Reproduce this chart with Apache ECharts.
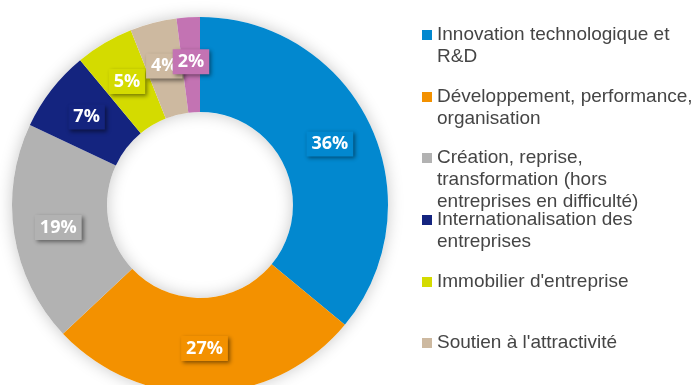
<!DOCTYPE html>
<html><head><meta charset="utf-8">
<script src="https://cdn.jsdelivr.net/npm/echarts@6/dist/echarts.min.js"></script>
<style>html,body{margin:0;padding:0;background:#fff}#c{width:694px;height:385px}</style>
</head><body><div id="c"></div>
<script>
const categories = [
  "Innovation technologique et\nR&D",
  "Développement, performance,\norganisation",
  "Création, reprise,\ntransformation (hors\nentreprises en difficulté)",
  "Internationalisation des\nentreprises",
  "Immobilier d'entreprise",
  "Soutien à l'attractivité",
  "Autres"
];
const values = [36, 27, 19, 7, 5, 4, 2];
const colors = ["#0288CF", "#F39100", "#B2B2B2", "#14247F", "#D4DB00", "#CDB9A0", "#C373B3"];
const legendShown = 6;

const legendIconY = [35, 97, 158, 220, 282, 343];
const LH = 22;
const legends = [];
for (let i = 0; i < legendShown; i++) {
  const n = categories[i].split("\n").length;
  const H = (2 * n - 1) * LH;
  legends.push({
    orient: 'vertical',
    left: 422,
    top: legendIconY[i] - H / 2,
    padding: 0,
    itemWidth: 10,
    itemHeight: 10,
    icon: 'rect',
    selectedMode: false,
    data: [categories[i]],
    formatter: function (name) {
      const lines = name.split("\n");
      return new Array(lines.length - 1).fill(" ").concat(lines).join("\n");
    },
    textStyle: { fontFamily: 'Liberation Sans, Arial, sans-serif', fontSize: 19, color: '#454545', lineHeight: LH }
  });
}

const chart = echarts.init(document.getElementById('c'), null, { renderer: 'canvas' });
chart.setOption({
  animation: false,
  color: colors,
  legend: legends,
  series: [
    {
      type: 'pie', silent: true, center: [200, 205], radius: [93, 188], z: 1,
      label: { show: false }, labelLine: { show: false },
      itemStyle: { color: '#fff', shadowBlur: 16, shadowColor: 'rgba(0,0,0,0.22)' },
      data: [{ value: 1, name: '__bg' }],
      legendHoverLink: false
    },
    {
      type: 'pie', center: [200, 205], radius: [93, 188], startAngle: 90, clockwise: true, z: 2,
      avoidLabelOverlap: false,
      label: {
        show: true, position: 'inside',
        formatter: p => p.value + '%',
        color: '#fff', fontFamily: 'Open Sans, sans-serif', fontWeight: 'bold', fontSize: 18,
        backgroundColor: 'inherit', padding: [4, 5, 3, 5],
        shadowColor: 'rgba(0,0,0,0.45)', shadowBlur: 4, shadowOffsetX: 2, shadowOffsetY: 2
      },
      labelLayout: { hideOverlap: false },
      labelLine: { show: false },
      data: categories.map((c, i) => ({ name: c, value: values[i] }))
    }
  ]
});
</script></body></html>
